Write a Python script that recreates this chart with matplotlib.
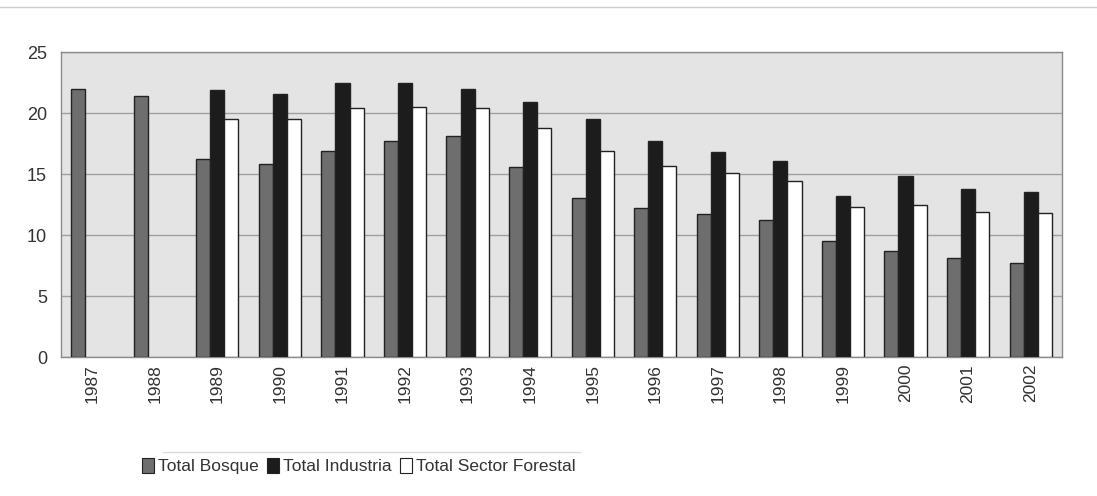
import matplotlib
matplotlib.use("Agg")
import matplotlib.pyplot as plt
from matplotlib.patches import Patch
import numpy as np

years = ["1987", "1988", "1989", "1990", "1991", "1992", "1993", "1994",
         "1995", "1996", "1997", "1998", "1999", "2000", "2001", "2002"]
total_bosque = [22.0, 21.4, 16.2, 15.8, 16.9, 17.7, 18.1, 15.6,
                13.0, 12.2, 11.7, 11.2, 9.5, 8.7, 8.1, 7.7]
total_industria = [np.nan, np.nan, 21.9, 21.6, 22.5, 22.5, 22.0, 20.9,
                   19.5, 17.7, 16.8, 16.1, 13.2, 14.8, 13.8, 13.5]
total_sector = [np.nan, np.nan, 19.5, 19.5, 20.4, 20.5, 20.4, 18.8,
                16.9, 15.7, 15.1, 14.4, 12.3, 12.5, 11.9, 11.8]
series_names = ["Total Bosque", "Total Industria", "Total Sector Forestal"]
series_colors = ["#6e6e6e", "#1c1c1c", "#ffffff"]
y_ticks = [0, 5, 10, 15, 20, 25]

plt.rcParams["font.family"] = ["Liberation Sans", "DejaVu Sans"]

fig = plt.figure(figsize=(10.97, 4.96), dpi=100)
ax = fig.add_axes([0.0556, 0.2802, 0.9124, 0.6148])
ax.set_facecolor("#e4e4e4")

x = np.arange(len(years))
w = 0.225
for i, (vals, col, name) in enumerate(zip([total_bosque, total_industria, total_sector],
                                          series_colors, series_names)):
    ax.bar(x + (i - 1) * w, vals, width=w, color=col, edgecolor="#222222",
           linewidth=1.0, label=name, zorder=3)

ax.set_xlim(-0.5, len(years) - 0.5)
ax.set_ylim(0, 25)
ax.set_yticks(y_ticks)
ax.set_yticklabels([str(t) for t in y_ticks], fontsize=13, color="#333333")
ax.set_xticks(x)
ax.set_xticklabels(years, rotation=90, fontsize=12.5, color="#333333")
ax.tick_params(axis="y", length=0, pad=10)
ax.tick_params(axis="x", length=0, pad=5)
ax.yaxis.grid(True, color="#a0a0a0", linewidth=1.0, zorder=1)
ax.set_axisbelow(True)
for s in ax.spines.values():
    s.set_color("#8a8a8a")
    s.set_linewidth(1.0)

handles = [Patch(facecolor=c, edgecolor="#222222", linewidth=0.8) for c in series_colors]
fig.legend(handles, series_names, loc="center", bbox_to_anchor=(0.327, 0.06),
           ncol=3, frameon=False, fontsize=12.5, handlelength=0.7, handleheight=0.9,
           handletextpad=0.2, columnspacing=0.5, labelcolor="#333333")

# faint rules above the chart and the legend
fig.add_artist(plt.Line2D([0.0, 1.0], [0.985, 0.985], color="#d0d0d0", linewidth=1.0))
fig.add_artist(plt.Line2D([0.149, 0.529], [0.089, 0.089], color="#dadada", linewidth=1.0))

fig.savefig("out.png", dpi=100)
